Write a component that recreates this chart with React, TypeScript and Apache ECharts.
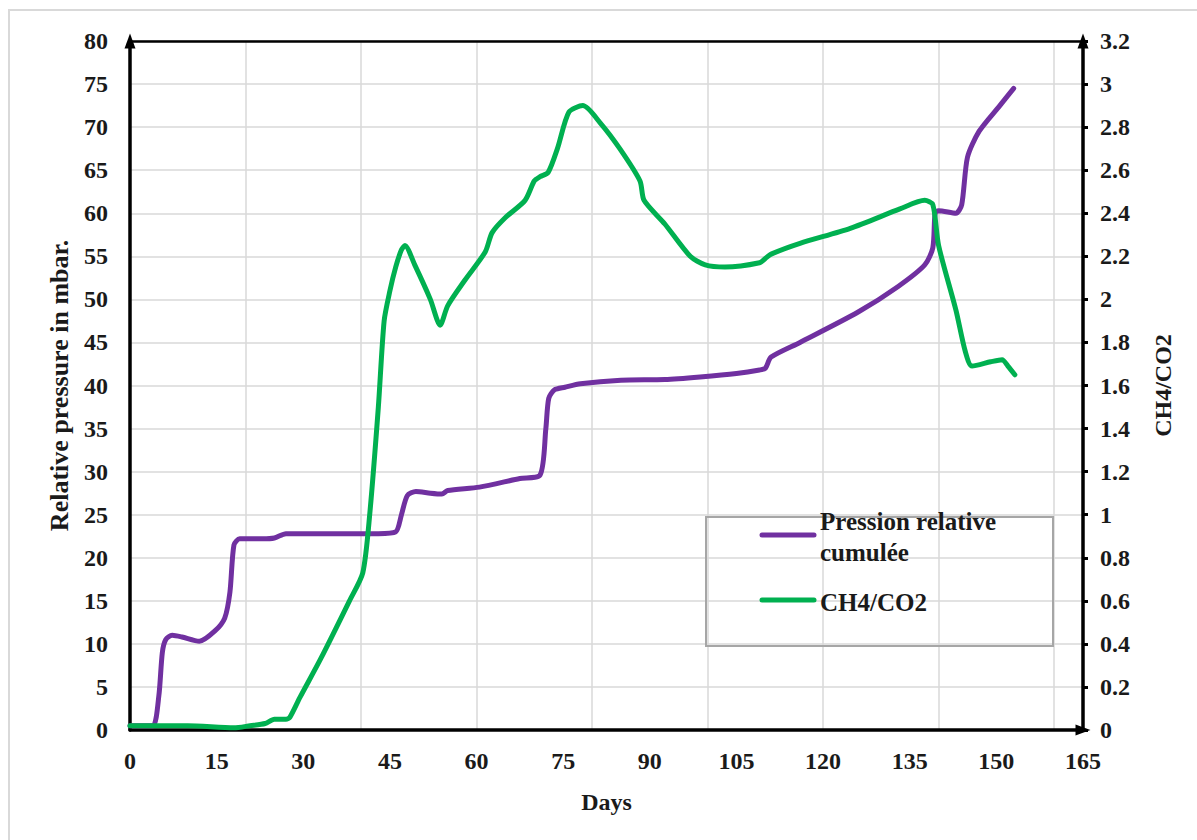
import React, { useEffect, useRef } from "react";
import * as echarts from "echarts";

const FONT = "Liberation Serif";

const xTickInterval = 15;
const xGridInterval = 20;
const xMax = 165;
const leftMax = 80;
const leftInterval = 5;
const rightMax = 3.2;
const rightInterval = 0.2;

const pressureName = "Pression relative cumulée";
const ratioName = "CH4/CO2";

const pressureDays = [0, 2, 4, 5, 5.6, 6.2, 7.3, 9, 12, 14.7, 16.4, 17.3, 18, 19, 23, 25, 27, 35, 43, 46, 47, 48, 49.5, 52, 54, 55, 60.5, 67.5, 71, 72, 72.5, 73.5, 75.3, 78, 85, 92.6, 98.7, 105, 109, 110, 111, 116, 126, 133, 137.6, 139, 139.4, 140, 143, 144, 145, 147, 150.6, 153];
const pressureValues = [0.5, 0.5, 0.5, 4, 9, 10.5, 11, 10.8, 10.3, 11.5, 13, 16, 21.5, 22.2, 22.2, 22.3, 22.8, 22.8, 22.8, 23, 25, 27.2, 27.7, 27.5, 27.4, 27.8, 28.2, 29.2, 29.6, 35, 38.5, 39.5, 39.8, 40.2, 40.6, 40.7, 41, 41.4, 41.8, 42, 43.3, 45, 48.5, 51.5, 54, 56, 60, 60.3, 60, 61, 66.5, 69.5, 72.5, 74.5];

const ratioDays = [0, 10, 18, 20.8, 23.4, 25, 27, 27.7, 29.4, 33, 38, 40.3, 41.5, 43, 44, 45, 46, 47, 47.6, 49.3, 52, 53.7, 55, 58, 61.5, 62.7, 65, 68.4, 70, 71, 72.4, 74, 76, 78.4, 81.4, 84.8, 88.3, 89, 92.6, 97, 99.6, 103, 109, 110, 111, 116, 124.7, 133.3, 137.6, 139, 140, 143, 144.6, 145.8, 149, 151, 152, 153.2];
const ratioValues = [0.02, 0.02, 0.01, 0.02, 0.03, 0.05, 0.05, 0.06, 0.15, 0.33, 0.6, 0.73, 1.0, 1.5, 1.9, 2.04, 2.15, 2.23, 2.25, 2.16, 2.0, 1.88, 1.97, 2.09, 2.22, 2.31, 2.38, 2.46, 2.55, 2.57, 2.59, 2.7, 2.87, 2.9, 2.82, 2.7, 2.55, 2.46, 2.35, 2.2, 2.16, 2.15, 2.17, 2.19, 2.21, 2.26, 2.33, 2.42, 2.46, 2.44, 2.25, 1.95, 1.76, 1.69, 1.71, 1.72, 1.69, 1.65];

const PURPLE = "#7030A0";
const GREEN = "#00B050";

export default function App() {
  const ref = useRef<HTMLDivElement>(null);

  useEffect(() => {
    if (!ref.current) return;
    const chart = echarts.init(ref.current, undefined, { renderer: "svg" });

    const labelStyle = {
      fontFamily: FONT,
      fontWeight: "bold" as const,
      fontSize: 24,
      color: "#1a1a1a",
    };
    const nameStyle = {
      fontFamily: FONT,
      fontWeight: "bold" as const,
      fontSize: 24,
      color: "#1a1a1a",
    };
    const gridLine = { show: true, lineStyle: { color: "#d9d9d9", width: 1.5 } };

    chart.setOption({
      animation: false,
      backgroundColor: "#fff",
      grid: { left: 130, right: 114, top: 41, bottom: 110, containLabel: false },
      xAxis: [
        {
          type: "value",
          min: 0,
          max: xMax,
          interval: xTickInterval,
          position: "bottom",
          axisLine: {
            show: true,
            onZero: false,
            symbol: ["none", "triangle"],
            symbolSize: [11, 15],
            lineStyle: { color: "#000", width: 3.5 },
          },
          axisTick: { show: false },
          splitLine: { show: false },
          axisLabel: { ...labelStyle, margin: 19 },
          name: "Days",
          nameLocation: "middle",
          nameGap: 60,
          nameTextStyle: nameStyle,
        },
        {
          type: "value",
          min: 0,
          max: xMax,
          interval: xGridInterval,
          position: "top",
          axisLine: { show: true, onZero: false, lineStyle: { color: "#000", width: 2.5 } },
          axisTick: { show: false },
          axisLabel: { show: false },
          splitLine: gridLine,
        },
      ],
      yAxis: [
        {
          type: "value",
          min: 0,
          max: leftMax,
          interval: leftInterval,
          position: "left",
          axisLine: {
            show: true,
            onZero: false,
            symbol: ["none", "triangle"],
            symbolSize: [11, 15],
            lineStyle: { color: "#000", width: 3.5 },
          },
          axisTick: { show: false },
          splitLine: gridLine,
          axisLabel: { ...labelStyle, margin: 22 },
          name: "Relative pressure in mbar.",
          nameLocation: "middle",
          nameGap: 58,
          nameTextStyle: { ...nameStyle, fontSize: 26 },
        },
        {
          type: "value",
          min: 0,
          max: rightMax,
          interval: rightInterval,
          position: "right",
          axisLine: {
            show: true,
            onZero: false,
            symbol: ["none", "triangle"],
            symbolSize: [11, 15],
            lineStyle: { color: "#000", width: 3.5 },
          },
          axisTick: { show: true, inside: false, length: 5, lineStyle: { color: "#000", width: 3 } },
          splitLine: { show: false },
          axisLabel: {
            ...labelStyle,
            margin: 17,
            formatter: (v: number) => String(+v.toFixed(1)),
          },
          name: "CH4/CO2",
          nameLocation: "middle",
          nameGap: 68,
          nameRotate: 90,
          nameTextStyle: nameStyle,
        },
      ],
      series: [
        {
          name: pressureName,
          type: "line",
          xAxisIndex: 0,
          yAxisIndex: 0,
          data: pressureDays.map((d, i) => [d, pressureValues[i]]),
          showSymbol: false,
          smooth: 0.25,
          lineStyle: { color: PURPLE, width: 5, cap: "round", join: "round" },
          itemStyle: { color: PURPLE },
          z: 3,
        },
        {
          name: ratioName,
          type: "line",
          xAxisIndex: 0,
          yAxisIndex: 1,
          data: ratioDays.map((d, i) => [d, ratioValues[i]]),
          showSymbol: false,
          smooth: 0.25,
          lineStyle: { color: GREEN, width: 5, cap: "round", join: "round" },
          itemStyle: { color: GREEN },
          z: 4,
        },
      ],
      graphic: [
        {
          type: "rect",
          z: -10,
          silent: true,
          shape: { x: 9, y: 10, width: 1300, height: 900 },
          style: { fill: "none", stroke: "#d9d9d9", lineWidth: 2 },
        },
        {
          type: "rect",
          z: 10,
          shape: { x: 706, y: 517, width: 347, height: 129 },
          style: { fill: "none", stroke: "#a6a6a6", lineWidth: 2 },
        },
        {
          type: "line",
          z: 10,
          shape: { x1: 762, y1: 535, x2: 814, y2: 535 },
          style: { stroke: PURPLE, lineWidth: 5, lineCap: "round" },
        },
        {
          type: "text",
          z: 10,
          x: 820,
          y: 537,
          style: {
            text: "Pression relative\ncumulée",
            fontFamily: FONT,
            fontWeight: "bold",
            fontSize: 25,
            fill: "#1a1a1a",
            verticalAlign: "middle",
            lineHeight: 31,
          },
        },
        {
          type: "line",
          z: 10,
          shape: { x1: 762, y1: 600, x2: 814, y2: 600 },
          style: { stroke: GREEN, lineWidth: 5, lineCap: "round" },
        },
        {
          type: "text",
          z: 10,
          x: 820,
          y: 602,
          style: {
            text: "CH4/CO2",
            fontFamily: FONT,
            fontWeight: "bold",
            fontSize: 25,
            fill: "#1a1a1a",
            verticalAlign: "middle",
          },
        },
      ],
    });

    return () => chart.dispose();
  }, []);

  return (
    <div
      ref={ref}
      style={{ position: "fixed", left: 0, top: 0, width: 1197, height: 840 }}
    />
  );
}
